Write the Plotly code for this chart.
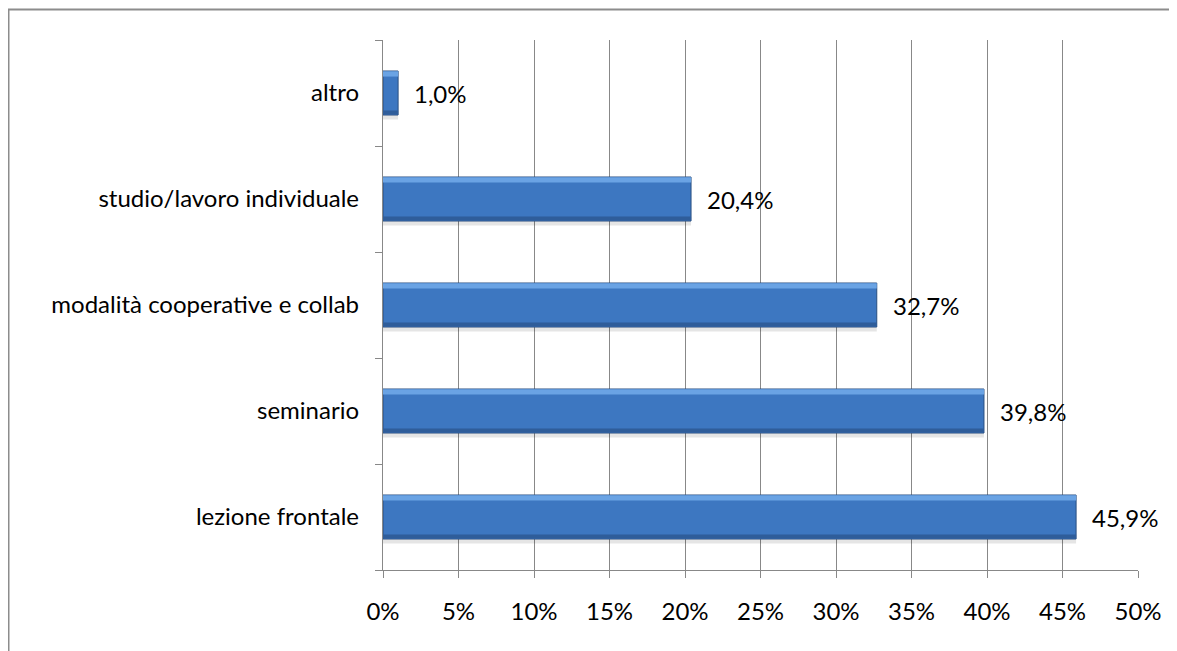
import plotly.graph_objects as go

categories = ["lezione frontale", "seminario", "modalità cooperative e collab",
              "studio/lavoro individuale", "altro"]
values = [0.459, 0.398, 0.327, 0.204, 0.010]
tick_vals = [0, 0.05, 0.10, 0.15, 0.20, 0.25, 0.30, 0.35, 0.40, 0.45, 0.50]
tick_text = ["0%", "5%", "10%", "15%", "20%", "25%", "30%", "35%", "40%", "45%", "50%"]
labels = ["45,9%", "39,8%", "32,7%", "20,4%", "1,0%"]

FONT = "Lato, Carlito, Calibri, sans-serif"
GRID = "#888888"

W, H = 1169, 643
L, R, T, B = 375, 39, 32, 81
PW, PH = W - L - R, H - T - B

fig = go.Figure()
# shadow
fig.add_trace(go.Bar(y=categories, x=values, orientation="h", width=0.44, offset=-0.25,
                     marker=dict(color="rgba(0,0,0,0.10)", line=dict(width=0)),
                     hoverinfo="skip", showlegend=False))
# main bar
fig.add_trace(go.Bar(y=categories, x=values, orientation="h", width=0.415, offset=-0.2075,
                     marker=dict(color="#3d77c1", line=dict(color="#2a4f80", width=1)),
                     showlegend=False))
# top highlight
fig.add_trace(go.Bar(y=categories, x=values, orientation="h", width=0.05, offset=0.155,
                     marker=dict(color="#6aa3e4", line=dict(width=0)),
                     hoverinfo="skip", showlegend=False))
# bottom darker edge
fig.add_trace(go.Bar(y=categories, x=values, orientation="h", width=0.035, offset=-0.2,
                     marker=dict(color="#2f5d9a", line=dict(width=0)),
                     hoverinfo="skip", showlegend=False))

for c, v, t in zip(categories, values, labels):
    fig.add_annotation(x=v, y=c, text=t, xanchor="left", xshift=14, showarrow=False,
                       font=dict(family=FONT, size=24, color="#000"))

fig.update_layout(
    width=W, height=H,
    margin=dict(l=L, r=R, t=T, b=B),
    paper_bgcolor="white", plot_bgcolor="white",
    barmode="overlay",
    font=dict(family=FONT, size=24, color="#000"),
    xaxis=dict(range=[0, 0.5], tickvals=tick_vals, ticktext=tick_text,
               showgrid=True, gridcolor=GRID, gridwidth=1.3,
               showline=True, linecolor=GRID, linewidth=1.3,
               ticks="outside", ticklen=7, tickcolor=GRID, tickwidth=1.3,
               zeroline=False, ticklabelstandoff=13, fixedrange=True),
    yaxis=dict(categoryorder="array", categoryarray=categories,
               showline=True, linecolor=GRID, linewidth=1.3,
               ticks="outside", ticklen=7, tickcolor=GRID, tickwidth=1.3,
               tickson="boundaries", showgrid=False,
               ticklabelstandoff=18, fixedrange=True),
    shapes=[dict(type="rect", xref="paper", yref="paper",
                 x0=(0.5 - L) / PW, x1=(W + 10 - L) / PW,
                 y0=-(B + 10) / PH, y1=(PH + T - 1.5) / PH,
                 line=dict(color="#8c8c8c", width=2), fillcolor="rgba(0,0,0,0)",
                 layer="below")],
)

fig.write_html("out.html")
